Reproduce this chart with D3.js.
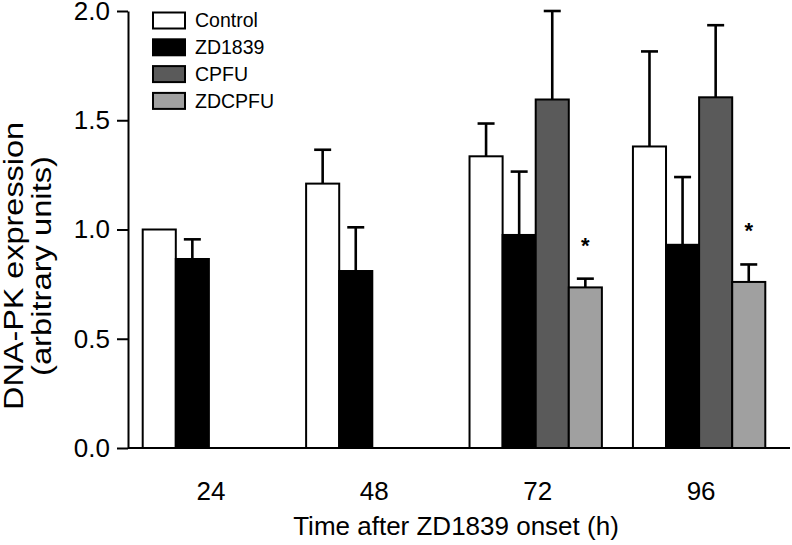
<!DOCTYPE html>
<html>
<head>
<meta charset="utf-8">
<script src="https://cdn.jsdelivr.net/npm/d3@7"></script>
<style>
  html, body { margin: 0; padding: 0; background: #fff; }
  svg { display: block; font-family: "Liberation Sans", Arial, Helvetica, sans-serif; }
</style>
</head>
<body>
<svg id="chart" width="792" height="545"></svg>
<script>
// ---- Data ----
const categories = ["24", "48", "72", "96"];
const seriesNames = ["Control", "ZD1839", "CPFU", "ZDCPFU"];
const controlValues = [1.00, 1.21, 1.335, 1.38];
const controlErrors = [0, 0.155, 0.15, 0.435];
const zd1839Values = [0.865, 0.81, 0.975, 0.93];
const zd1839Errors = [0.09, 0.20, 0.29, 0.31];
const cpfuValues = [null, null, 1.595, 1.605];
const cpfuErrors = [null, null, 0.405, 0.33];
const zdcpfuValues = [null, null, 0.735, 0.76];
const zdcpfuErrors = [null, null, 0.04, 0.08];
const zdcpfuSignificant = [false, false, true, true];
const yTicks = [0, 0.5, 1.0, 1.5, 2.0];
const seriesColors = ["#ffffff", "#000000", "#5a5a5a", "#a0a0a0"];

const seriesValues = [controlValues, zd1839Values, cpfuValues, zdcpfuValues];
const seriesErrors = [controlErrors, zd1839Errors, cpfuErrors, zdcpfuErrors];

const rows = [];
seriesNames.forEach((s, si) => {
  categories.forEach((c, ci) => {
    const v = seriesValues[si][ci];
    if (v == null) return;
    rows.push({
      series: s, cat: c, value: v, err: seriesErrors[si][ci],
      star: s === "ZDCPFU" && zdcpfuSignificant[ci]
    });
  });
});

// ---- Layout ----
const svg = d3.select("#chart");
const x0 = 128, yBottom = 448, yTop = 11;

const x = d3.scaleBand().domain(categories).range([x0, 780])
  .paddingInner(0.19).paddingOuter(0.09);
const xs = d3.scaleBand().domain(seriesNames).range([0, x.bandwidth()]);
const y = d3.scaleLinear().domain([0, 2]).range([yBottom, yTop]);
const color = d3.scaleOrdinal().domain(seriesNames).range(seriesColors);

// Bars
svg.append("g").selectAll("rect").data(rows).join("rect")
  .attr("x", d => x(d.cat) + xs(d.series))
  .attr("y", d => y(d.value))
  .attr("width", xs.bandwidth())
  .attr("height", d => y(0) - y(d.value))
  .attr("fill", d => color(d.series))
  .attr("stroke", "#000")
  .attr("stroke-width", 2);

// Error bars
const eb = svg.append("g").attr("stroke", "#000").attr("stroke-width", 2.6);
const errRows = rows.filter(d => d.err > 0);
const cx = d => x(d.cat) + xs(d.series) + xs.bandwidth() / 2;
eb.selectAll("line.v").data(errRows).join("line").attr("class", "v")
  .attr("x1", cx).attr("x2", cx)
  .attr("y1", d => y(d.value))
  .attr("y2", d => y(d.value + d.err));
eb.selectAll("line.c").data(errRows).join("line").attr("class", "c")
  .attr("x1", d => cx(d) - 8.5)
  .attr("x2", d => cx(d) + 8.5)
  .attr("y1", d => y(d.value + d.err))
  .attr("y2", d => y(d.value + d.err));

// Significance stars
svg.append("g").selectAll("text").data(rows.filter(d => d.star)).join("text")
  .attr("x", cx)
  .attr("y", d => y(d.value + d.err) - 26)
  .attr("text-anchor", "middle")
  .attr("font-size", 22)
  .attr("font-weight", "bold")
  .text("*");

// Y axis
const yAxis = d3.axisLeft(y).tickValues(yTicks).tickFormat(d3.format(".1f"))
  .tickSizeOuter(0).tickSizeInner(11).tickPadding(7);
const gy = svg.append("g").attr("transform", `translate(${x0},0)`).call(yAxis);
gy.select(".domain").attr("stroke-width", 2);
gy.selectAll(".tick line").attr("stroke-width", 2);
gy.selectAll(".tick text").attr("font-size", 26).attr("font-family", null).attr("fill", "#000");

// X axis (baseline, no ticks)
const xAxis = d3.axisBottom(x).tickSize(0).tickPadding(34);
const gx = svg.append("g").attr("transform", `translate(0,${yBottom})`).call(xAxis);
gx.select(".domain").remove();
gx.append("line").attr("x1", x0).attr("x2", 790).attr("y1", 0).attr("y2", 0)
  .attr("stroke", "#000").attr("stroke-width", 2);
gx.selectAll(".tick text").attr("font-size", 26).attr("font-family", null).attr("fill", "#000")
  .attr("dx", 2);

// Axis titles
svg.append("text").attr("x", 456).attr("y", 535).attr("text-anchor", "middle")
  .attr("font-size", 26).text("Time after ZD1839 onset (h)");
const yt = svg.append("text").attr("transform", "translate(0,266) rotate(-90)")
  .attr("text-anchor", "middle").attr("font-size", 27);
yt.append("tspan").attr("x", 0).attr("y", 23)
  .attr("textLength", 288).attr("lengthAdjust", "spacingAndGlyphs")
  .text("DNA-PK expression");
yt.append("tspan").attr("x", 0).attr("y", 51)
  .attr("textLength", 220).attr("lengthAdjust", "spacingAndGlyphs")
  .text("(arbitrary units)");

// Legend
const lg = svg.append("g").attr("transform", "translate(153,0)");
const li = lg.selectAll("g").data(seriesNames).join("g")
  .attr("transform", (d, i) => `translate(0,${20.5 + i * 26.8})`);
li.append("rect").attr("x", 0).attr("y", -8).attr("width", 32).attr("height", 16)
  .attr("fill", d => color(d)).attr("stroke", "#000").attr("stroke-width", 2);
li.append("text").attr("x", 42).attr("y", 0).attr("dy", "0.35em")
  .attr("font-size", 19.5).text(d => d);
</script>
</body>
</html>
